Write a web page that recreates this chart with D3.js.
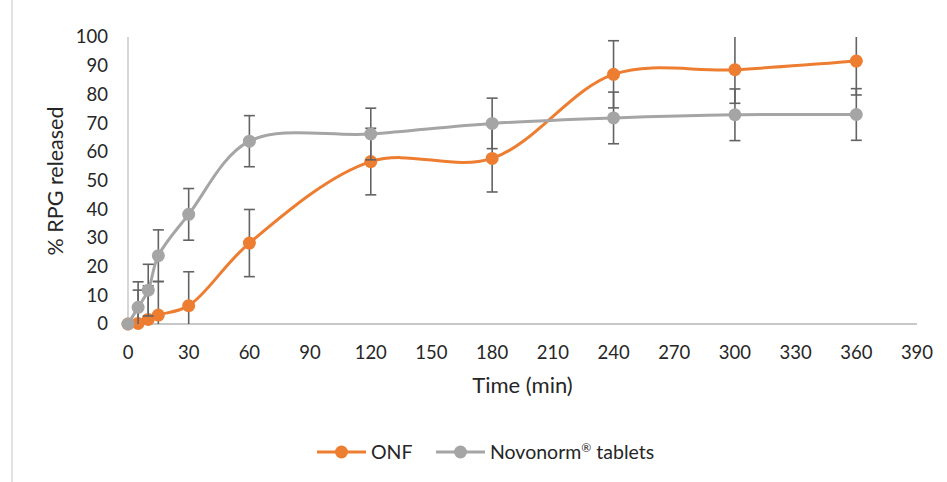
<!DOCTYPE html>
<html>
<head>
<meta charset="utf-8">
<script src="https://cdn.jsdelivr.net/npm/d3@7"></script>
<style>
  body { margin: 0; background: #fff; }
  text { font-family: Lato, "Open Sans", sans-serif; fill: #262626; }
</style>
</head>
<body>
<svg width="947" height="482"></svg>
<script>
// time points (min)
var times = [0, 5, 10, 15, 30, 60, 120, 180, 240, 300, 360];
// % released
var onfValues = [0, 0.2, 1.6, 3.1, 6.4, 28.2, 56.6, 57.7, 87, 88.6, 91.6];
var onfErrors = [0, 11.6, 11.7, 11.7, 11.8, 11.7, 11.6, 11.7, 11.7, 11.7, 11.8];
var novoValues = [0, 5.8, 11.8, 23.8, 38.2, 63.7, 66.2, 69.9, 71.8, 72.9, 73];
var novoErrors = [0, 8.9, 9, 9, 9, 8.9, 9, 8.8, 9, 9, 9];
var xTicks = d3.range(0, 391, 30);
var yTicks = d3.range(0, 101, 10);
var seriesNames = ['ONF', 'Novonorm'];
var seriesColors = ['#ED7D31', '#A5A5A5'];

var svg = d3.select('svg');
var plot = {l: 128, r: 917, t: 37, b: 324};

var xScale = d3.scaleLinear().domain([0, 390]).range([plot.l, plot.r]);
var yScale = d3.scaleLinear().domain([0, 100]).range([plot.b, plot.t]);

// left frame edge
svg.append('line')
    .attr('x1', 12).attr('x2', 12).attr('y1', 0).attr('y2', 482)
    .attr('stroke', '#d9d9d9').attr('stroke-width', 1.5);

// error bars are cut at 0 and 100
svg.append('defs').append('clipPath').attr('id', 'clip')
    .append('rect')
    .attr('x', plot.l - 10).attr('y', plot.t)
    .attr('width', plot.r - plot.l + 20).attr('height', plot.b - plot.t);

// axes lines
svg.append('line')
    .attr('x1', plot.l).attr('x2', plot.r).attr('y1', plot.b).attr('y2', plot.b)
    .attr('stroke', '#c8c8c8').attr('stroke-width', 2);
svg.append('line')
    .attr('x1', plot.l).attr('x2', plot.l).attr('y1', plot.t).attr('y2', plot.b)
    .attr('stroke', '#c8c8c8').attr('stroke-width', 1.5);

// tick labels
svg.selectAll('.ylab').data(yTicks).enter().append('text')
    .attr('class', 'ylab')
    .attr('x', 108).attr('y', function(d) { return yScale(d); })
    .attr('dy', '0.35em')
    .attr('text-anchor', 'end')
    .style('font-size', '18.5px')
    .text(function(d) { return d; });

svg.selectAll('.xlab').data(xTicks).enter().append('text')
    .attr('class', 'xlab')
    .attr('x', function(d) { return xScale(d); }).attr('y', 353)
    .attr('dy', '0.35em')
    .attr('text-anchor', 'middle')
    .style('font-size', '18.5px')
    .text(function(d) { return d; });

svg.append('text')
    .attr('x', (plot.l + plot.r) / 2).attr('y', 385)
    .attr('dy', '0.35em')
    .attr('text-anchor', 'middle')
    .style('font-size', '22px')
    .text('Time (min)');

svg.append('text')
    .attr('transform', 'translate(55,181) rotate(-90)')
    .attr('dy', '0.35em')
    .attr('text-anchor', 'middle')
    .style('font-size', '21.5px')
    .text('% RPG released');

var series = [
    {name: seriesNames[0], color: seriesColors[0], values: onfValues, errors: onfErrors},
    {name: seriesNames[1], color: seriesColors[1], values: novoValues, errors: novoErrors}
];

var line = d3.line()
    .x(function(d) { return xScale(d[0]); })
    .y(function(d) { return yScale(d[1]); })
    .curve(d3.curveCatmullRom.alpha(0.5));

series.forEach(function(s) {
    var pts = times.map(function(t, i) { return [t, s.values[i], s.errors[i]]; });
    var sg = svg.append('g');

    sg.append('path')
        .datum(pts)
        .attr('d', line)
        .attr('fill', 'none')
        .attr('stroke', s.color)
        .attr('stroke-width', 3);

    var eb = sg.append('g').attr('clip-path', 'url(#clip)')
        .selectAll('.err').data(pts.filter(function(d) { return d[2] > 0; }))
        .enter().append('g').attr('class', 'err')
        .attr('stroke', '#636363').attr('stroke-width', 1.6);
    eb.append('line')
        .attr('x1', function(d) { return xScale(d[0]); })
        .attr('x2', function(d) { return xScale(d[0]); })
        .attr('y1', function(d) { return yScale(d[1] - d[2]); })
        .attr('y2', function(d) { return yScale(d[1] + d[2]); });
    [-1, 1].forEach(function(sign) {
        eb.append('line')
            .attr('x1', function(d) { return xScale(d[0]) - 5.5; })
            .attr('x2', function(d) { return xScale(d[0]) + 5.5; })
            .attr('y1', function(d) { return yScale(d[1] + sign * d[2]); })
            .attr('y2', function(d) { return yScale(d[1] + sign * d[2]); });
    });

    sg.selectAll('.pt').data(pts).enter().append('circle')
        .attr('cx', function(d) { return xScale(d[0]); })
        .attr('cy', function(d) { return yScale(d[1]); })
        .attr('r', 6.5)
        .attr('fill', s.color);
});

// legend
var legend = svg.append('g');
var legendX = [317, 436];
series.forEach(function(s, i) {
    var lg = legend.append('g').attr('transform', 'translate(' + [legendX[i], 452] + ')');
    lg.append('line').attr('x1', 0).attr('x2', 49).attr('y1', 0).attr('y2', 0)
        .attr('stroke', s.color).attr('stroke-width', 3);
    lg.append('circle').attr('cx', 24.5).attr('cy', 0).attr('r', 6.5).attr('fill', s.color);
    var t = lg.append('text').attr('x', 54).attr('y', 7)
        .style('font-size', '19.5px')
        .text(s.name);
    if (i === 1) {
        t.append('tspan').attr('dy', -7).style('font-size', '12px').text('\u00AE');
        t.append('tspan').attr('dy', 7).text(' tablets');
    }
});
</script>
</body>
</html>
